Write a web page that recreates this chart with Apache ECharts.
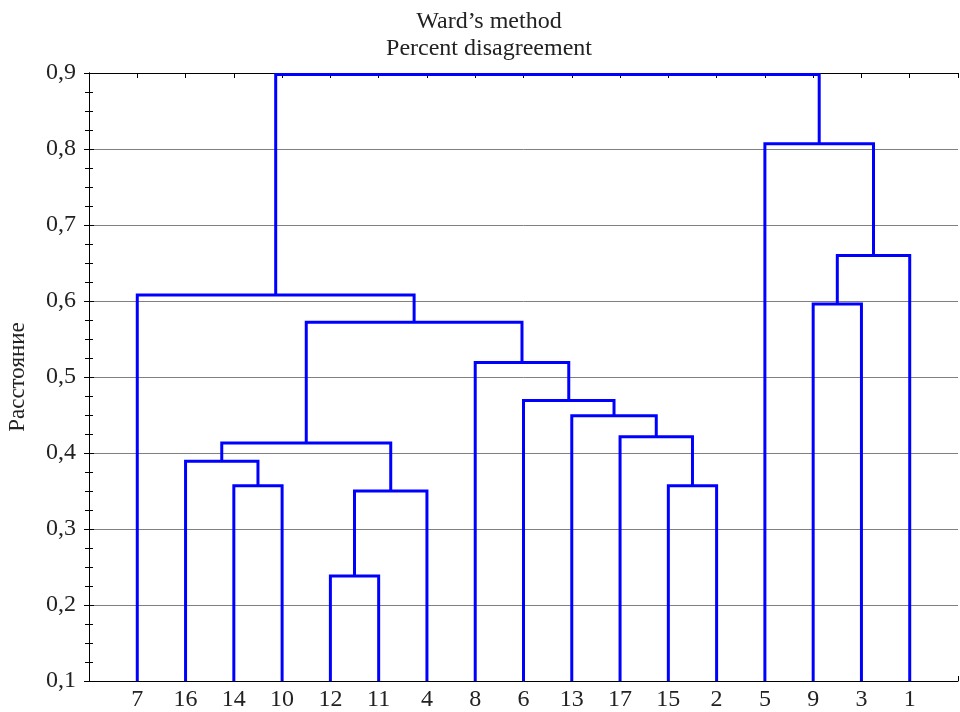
<!DOCTYPE html>
<html>
<head>
<meta charset="utf-8">
<script src="https://cdn.jsdelivr.net/npm/echarts@6/dist/echarts.min.js"></script>
<style>html,body{margin:0;padding:0;background:#fff}#c{width:960px;height:712px}</style>
</head>
<body>
<div id="c"></div>
<script>
// Leaves in display order (ids 0..16)
const leafLabels = ['7','16','14','10','12','11','4','8','6','13','17','15','2','5','9','3','1'];
// Merges: cluster id = 17 + index
const mergeLeft   = [4, 17, 2, 11, 1, 21, 10, 9, 8, 7, 22, 14, 0, 28, 13, 29];
const mergeRight  = [5, 6, 3, 12, 19, 18, 20, 23, 24, 25, 26, 15, 27, 16, 30, 31];
const mergeHeight = [0.238, 0.350, 0.357, 0.357, 0.389, 0.413, 0.4215, 0.449, 0.469, 0.519, 0.572, 0.596, 0.608, 0.660, 0.807, 0.898];
const yTicks = [0.1, 0.2, 0.3, 0.4, 0.5, 0.6, 0.7, 0.8, 0.9];
const baseHeight = 0.1;

const nLeaf = leafLabels.length;
const pos = [], hgt = [];
for (let i = 0; i < nLeaf; i++) { pos[i] = i + 1; hgt[i] = baseHeight; }
const segs = [];
for (let k = 0; k < mergeLeft.length; k++) {
  const a = mergeLeft[k], b = mergeRight[k], h = mergeHeight[k];
  segs.push({ coords: [[pos[a], hgt[a]], [pos[a], h], [pos[b], h], [pos[b], hgt[b]]] });
  pos[nLeaf + k] = (pos[a] + pos[b]) / 2;
  hgt[nLeaf + k] = h;
}

const font = '"Liberation Serif", "Times New Roman", serif';
const chart = echarts.init(document.getElementById('c'), null, { renderer: 'canvas' });
const xCommon = {
  type: 'value', min: 0, max: nLeaf + 1, interval: 1,
  axisLine: { show: true, lineStyle: { color: '#000', width: 1 } },
  axisTick: { show: true, inside: true, length: 5, lineStyle: { color: '#000' } },
  splitLine: { show: false }
};
const yCommon = {
  type: 'value', min: yTicks[0], max: yTicks[yTicks.length - 1], interval: 0.1,
  axisLine: { show: true, lineStyle: { color: '#000', width: 1 } },
  axisTick: { show: true, inside: true, length: 5, lineStyle: { color: '#000' } },
  minorTick: { show: true, splitNumber: 4, length: 4, lineStyle: { color: '#000' } }
};
chart.setOption({
  animation: false,
  backgroundColor: '#fff',
  title: {
    text: 'Ward’s method\nPercent disagreement',
    left: 484, textAlign: 'center', top: 3,
    textStyle: { fontFamily: font, fontSize: 24, fontWeight: 'normal', color: '#222', lineHeight: 27 }
  },
  grid: { left: 89, right: 2, top: 73, bottom: 31, containLabel: false, outerBoundsMode: 'none' },
  xAxis: [
    Object.assign({}, xCommon, {
      position: 'bottom',
      axisLabel: {
        show: true, margin: 7, fontFamily: font, fontSize: 24, color: '#222',
        formatter: v => (v >= 1 && v <= nLeaf) ? leafLabels[Math.round(v) - 1] : ''
      }
    }),
    Object.assign({}, xCommon, { position: 'top', axisLabel: { show: false } })
  ],
  yAxis: [
    Object.assign({}, yCommon, {
      position: 'left',
      name: 'Расстояние', nameLocation: 'middle', nameGap: 60,
      nameTextStyle: { fontFamily: font, fontSize: 23, color: '#222' },
      axisLabel: {
        show: true, margin: 13, fontFamily: font, fontSize: 24, color: '#222',
        formatter: v => v.toFixed(1).replace('.', ',')
      },
      splitLine: { show: true, lineStyle: { color: '#808080', width: 1 } }
    }),
    Object.assign({}, yCommon, {
      position: 'right', axisLabel: { show: false }, splitLine: { show: false }
    })
  ],
  series: [{
    type: 'lines',
    coordinateSystem: 'cartesian2d',
    xAxisIndex: 0, yAxisIndex: 0,
    polyline: true,
    silent: true,
    lineStyle: { color: '#0000ff', width: 3, opacity: 1, join: 'miter', cap: 'butt' },
    data: segs
  }]
});
</script>
</body>
</html>
